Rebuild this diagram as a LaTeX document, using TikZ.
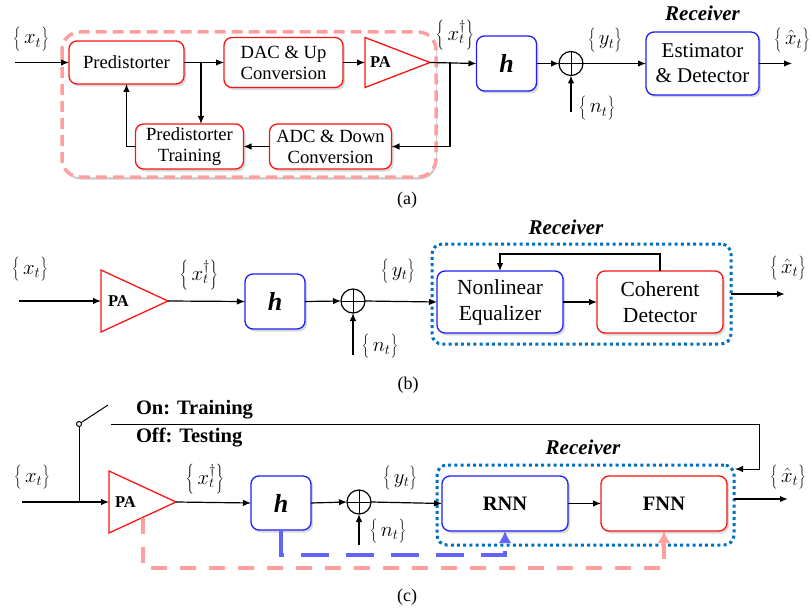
\documentclass[tikz,border=0pt]{standalone}
\usepackage{fontspec}
\setmainfont{Liberation Serif}
\usetikzlibrary{positioning,arrows.meta,shadows}
\definecolor{boxred}{RGB}{250,20,20}
\definecolor{boxblue}{RGB}{30,30,250}
\definecolor{pinkline}{RGB}{255,160,160}
\definecolor{dashblue}{RGB}{100,100,250}
\definecolor{dotblue}{RGB}{0,112,192}
% signal sequence in tall braces
\newcommand{\seqof}[1]{$\left\{\vrule height 18pt depth 8pt width 0pt\,#1\right\}$}

\begin{document}
\begin{tikzpicture}
[x=1pt,y=-1pt,>={Latex[length=8pt,width=6.5pt]},line width=1.2pt,
 every node/.style={inner sep=0pt,outer sep=0pt},
 blk/.style={rectangle,rounded corners=8pt,draw,line width=1.3pt,fill=white,align=center,
             font=\fontsize{18.6}{21}\selectfont,
             drop shadow={opacity=0.3,shadow xshift=2pt,shadow yshift=-2.5pt}},
 rblk/.style={blk,draw=boxred},
 bblk/.style={blk,draw=boxblue},
 nnblk/.style={minimum width=126pt,minimum height=55pt,font=\fontsize{20.5}{24}\bfseries\selectfont},
 chan/.style={bblk,minimum width=60pt,minimum height=55pt,font=\fontsize{26}{26}\bfseries\itshape\selectfont},
 sum/.style={circle,draw,line width=1.2pt,minimum size=24pt,
             path picture={\draw[line width=1pt] (path picture bounding box.north) -- (path picture bounding box.south)
                                                 (path picture bounding box.west) -- (path picture bounding box.east);}},
 pa/.style={draw=boxred,line width=1.3pt},
 patxt/.style={font=\fontsize{16.5}{16.5}\bfseries\selectfont},
 sig/.style={font=\fontsize{21}{25}\selectfont},
 rx/.style={font=\fontsize{21}{21}\bfseries\itshape\selectfont},
 mode/.style={font=\fontsize{20.5}{21}\bfseries\selectfont,anchor=west},
 captxt/.style={font=\fontsize{18}{18}\selectfont},
 predbox/.style={draw=pinkline,fill=white,line width=3.5pt,dash pattern=on 11pt off 6pt,rounded corners=18pt,
                 drop shadow={opacity=0.4,shadow xshift=1pt,shadow yshift=-2.5pt}},
 rxbox/.style={rectangle,draw=dotblue,line width=3pt,dash pattern=on 3pt off 3.2pt,rounded corners=10pt},
 bluefb/.style={draw=dashblue,line width=4pt,dash pattern=on 28pt off 17pt},
 pinkfb/.style={draw=pinkline,line width=4pt,dash pattern=on 16pt off 13pt}]
\useasboundingbox (0,0) rectangle (812,610);

% (a) transmitter with digital predistortion
\draw[predbox] (62,32) rectangle (436,177);
\node[rblk,minimum width=115pt,minimum height=43pt] (pre) at (126.5,62.5) {Predistorter};
\node[rblk,minimum width=119pt,minimum height=50pt] (dac) [on grid,right=157pt of pre] {DAC \& Up\\Conversion};
\node[rblk,minimum width=108pt,minimum height=45pt] (trn) [on grid,below right=84pt and 63pt of pre] {Predistorter\\Training};
\node[rblk,minimum width=122pt,minimum height=45pt] (adc) [on grid,right=141pt of trn] {ADC \& Down\\Conversion};
\coordinate (paAin) at (365,62.5);
\coordinate (paAout) at (430,62.5);
\draw[pa] (paAin) ++(0,-25) -- (paAout) -- ++(-65,25) -- cycle;
\node[patxt] (paAlbl) [right=5pt of paAin] {PA};
\node[chan] (hA) at (506.5,63.5) {h};
\node[sum] (sumA) [on grid,right=64.5pt of hA] {};
\node[bblk,minimum width=113pt,minimum height=63pt,font=\fontsize{21}{25}\selectfont] (est) [on grid,right=131.5pt of sumA] {Estimator\\\& Detector};
\node[rx] (rxA) [on grid,above=50pt of est] {Receiver};

\coordinate (inA) at (15,62.5);
\coordinate (brA) at (201,62.5);
\coordinate (fbA) at (450,62.5);
\coordinate (nA) at (571,112);
\coordinate (outA) at (792,63.5);
\draw[->] (inA) -- (pre.west);
\draw[->] (pre.east) -- (dac.west);
\draw[->] (brA) -- (brA |- trn.north);
\draw[->] (trn.west) -| (pre.south);
\draw[->] (dac.east) -- (paAin);
\draw[->] (paAout) -- (hA.west);
\draw[->] (fbA) |- (adc.east);
\draw[->] (adc.west) -- (trn.east);
\draw[->] (hA.east) -- (sumA.west);
\draw[->] (nA) -- (sumA.south);
\draw[->] (sumA.east) -- (est.west);
\draw[->] (est.east) -- (outA);

\node[sig] (xA)  at (31,39)   {\seqof{x_t}};
\node[sig] (xdA) at (455,35)  {\seqof{x_t^{\dagger}}};
\node[sig] (yA)  at (605,40)  {\seqof{y_t}};
\node[sig] (nAl) at (597,108) {\seqof{n_t}};
\node[sig] (xhA) at (792,40)  {\seqof{\hat{x}_t}};
\node[captxt] (capA) at (407,200) {(a)};

% (b) receiver with nonlinear equalizer
\node[rxbox,minimum width=299pt,minimum height=100pt] (rcvB) at (581.5,294) {};
\coordinate (paBin) at (101,301);
\coordinate (paBout) at (168,301);
\draw[pa] (paBin) ++(0,-31) -- (paBout) -- ++(-67,31) -- cycle;
\node[patxt] (paBlbl) [right=7pt of paBin] {PA};
\node[chan] (hB) at (275,301.5) {h};
\node[sum] (sumB) at (353,301) {};
\node[bblk,minimum width=126pt,minimum height=62pt,font=\fontsize{21.5}{26}\selectfont] (nle) at (500,302) {Nonlinear\\Equalizer};
\node[rblk,minimum width=126pt,minimum height=62pt,font=\fontsize{21.5}{26}\selectfont] (coh) [on grid,right=160pt of nle] {Coherent\\Detector};
\node[rx] (rxB) at (566,227) {Receiver};

\coordinate (inB) at (19,301);
\coordinate (nB) at (353,355);
\coordinate (fbB) at (580,254);
\coordinate (outB) at (785,294);
\draw[->] (inB) -- (paBin);
\draw[->] (paBout) -- (hB.west);
\draw[->] (hB.east) -- (sumB.west);
\draw[->] (nB) -- (sumB.south);
\draw[->] (sumB.east) -- (nle.west);
\draw[->] (nle.east) -- (coh.west);
\draw[->] (coh.north) |- (fbB) -| (nle.north);
\draw[->,line width=2pt] (rcvB.east) -- (outB);

\node[sig] (xB)  at (30,269)  {\seqof{x_t}};
\node[sig] (xdB) at (199,275) {\seqof{x_t^{\dagger}}};
\node[sig] (yB)  at (398,271) {\seqof{y_t}};
\node[sig] (nBl) at (380,346) {\seqof{n_t}};
\node[sig] (xhB) at (788,268) {\seqof{\hat{x}_t}};
\node[captxt] (capB) at (408,385) {(b)};

% (c) neural network receiver with training switch
\node[rxbox,minimum width=297pt,minimum height=80pt] (rcvC) at (585.5,505) {};
\coordinate (paCin) at (109,502);
\coordinate (paCout) at (176,502);
\draw[pa] (paCin) ++(0,-31) -- (paCout) -- ++(-67,31) -- cycle;
\node[patxt] (paClbl) [right=6pt of paCin] {PA};
\node[chan,minimum height=54pt] (hC) at (281,503) {h};
\node[sum] (sumC) at (359,502) {};
\node[bblk,nnblk] (rnn) at (505,503.5) {RNN};
\node[rblk,nnblk] (fnn) [on grid,right=159pt of rnn] {FNN};
\node[rx] (rxC) at (583,447) {Receiver};

\node[circle,draw,line width=1pt,minimum size=5pt,fill=white] (swC) at (79,424) {};
\coordinate (swJ) at (79,502);
\coordinate (swT) at (108,405);
\coordinate (trS) at (111,424);
\coordinate (trE) at (759,424);
\coordinate (trT) at (735,469);
\draw[line width=1pt] (swJ) -- (swC);
\draw[line width=1pt] (swC) -- (swT);
\draw[->,line width=1pt] (trS) -- (trE) |- (trT);
\node[mode] (onTxt)  at (136,410) {On: Training};
\node[mode] (offTxt) at (136,438) {Off: Testing};

\coordinate (inC) at (22,502);
\coordinate (nC) at (359,545);
\coordinate (outC) at (788,499);
\coordinate (bfC) at (400,555);
\coordinate (pkC) at (143,518);
\coordinate (pfC) at (400,568);
\draw[->] (inC) -- (paCin);
\draw[->] (paCout) -- (hC.west);
\draw[->] (hC.east) -- (sumC.west);
\draw[->] (nC) -- (sumC.south);
\draw[->] (sumC.east) -- (rnn.west);
\draw[->] (rnn.east) -- (fnn.west);
\draw[->,line width=2pt] (outC -| rcvC.east) -- (outC);
\draw[bluefb,-{Latex[length=12pt,width=13pt]}] (hC.south) |- (bfC) -| (rnn.south);
\draw[pinkfb,-{Latex[length=12pt,width=13pt]}] (pkC) |- (pfC) -| (fnn.south);

\node[sig] (xC)  at (32,477)  {\seqof{x_t}};
\node[sig] (xdC) at (205,479) {\seqof{x_t^{\dagger}}};
\node[sig] (yC)  at (400,478) {\seqof{y_t}};
\node[sig] (nCl) at (388,531) {\seqof{n_t}};
\node[sig] (xhC) at (788,477) {\seqof{\hat{x}_t}};
\node[captxt] (capC) at (407,597) {(c)};
\end{tikzpicture}
\end{document}
